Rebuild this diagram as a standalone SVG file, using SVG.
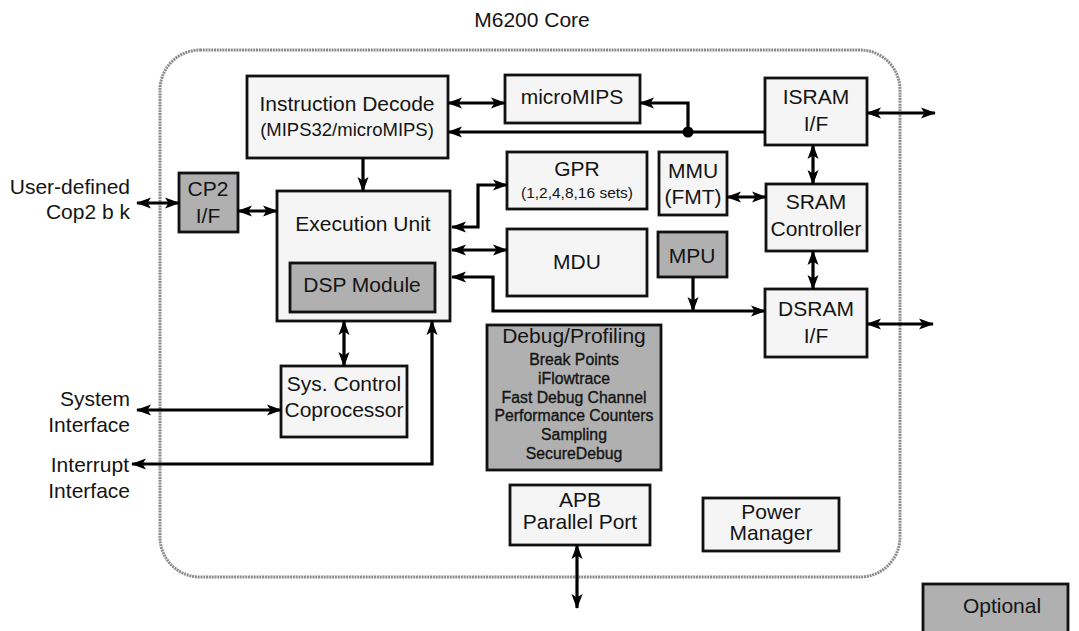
<svg xmlns="http://www.w3.org/2000/svg" width="1079" height="631" viewBox="0 0 1079 631">
<style>
  text { font-family: "Liberation Sans", Arial, sans-serif; fill: #141414; font-size: 21px; }
  .c { text-anchor: middle; }
  .r { text-anchor: end; }
  .s { font-size: 15.5px; }
  .d { font-size: 15.8px; stroke: #141414; stroke-width: 0.35; }
  .box { fill: #f5f5f5; stroke: #111; stroke-width: 2.8; }
  .opt { fill: #b0b0b0; stroke: #111; stroke-width: 2.8; }
  .ln { fill: none; stroke: #000; stroke-width: 3.2; }
</style>
<defs>
  <marker id="ah" viewBox="0 -6 15 12" refX="14" refY="0" markerWidth="15" markerHeight="12" markerUnits="userSpaceOnUse" orient="auto-start-reverse">
    <path d="M0,-5.5 L15,0 L0,5.5 L3.5,0 z" fill="#000"/>
  </marker>
</defs>
<rect width="1079" height="631" fill="#fff"/>
<text class="c" x="532" y="27">M6200 Core</text>
<rect x="160" y="50" width="740" height="527" rx="40" ry="40" fill="none" stroke="#8c8c8c" stroke-width="3" stroke-dasharray="2 0.8"/>

<g id="instruction-decode">
  <rect class="box" x="247" y="76" width="201" height="82"/>
  <text class="c" x="347" y="111">Instruction Decode</text>
  <text class="c" x="347" y="136" style="font-size:18.5px">(MIPS32/microMIPS)</text>
</g>
<g id="micromips">
  <rect class="box" x="505" y="75" width="135" height="48"/>
  <text class="c" x="572" y="104">microMIPS</text>
</g>
<g id="isram">
  <rect class="box" x="765" y="78" width="102" height="67"/>
  <text class="c" x="816" y="104">ISRAM</text>
  <text class="c" x="816" y="131">I/F</text>
</g>
<g id="gpr">
  <rect class="box" x="507" y="152" width="140" height="57"/>
  <text class="c" x="577" y="176">GPR</text>
  <text class="c s" x="577" y="198">(1,2,4,8,16 sets)</text>
</g>
<g id="mmu">
  <rect class="box" x="659" y="152" width="68" height="63"/>
  <text class="c" x="693" y="178">MMU</text>
  <text class="c" x="693" y="204">(FMT)</text>
</g>
<g id="sram-controller">
  <rect class="box" x="766" y="184" width="101" height="67"/>
  <text class="c" x="816" y="209">SRAM</text>
  <text class="c" x="816" y="236">Controller</text>
</g>
<g id="mpu">
  <rect class="opt" x="658" y="232" width="69" height="45"/>
  <text class="c" x="692" y="263">MPU</text>
</g>
<g id="mdu">
  <rect class="box" x="507" y="229" width="140" height="67"/>
  <text class="c" x="577" y="269">MDU</text>
</g>
<g id="dsram">
  <rect class="box" x="765" y="289" width="102" height="68"/>
  <text class="c" x="816" y="316">DSRAM</text>
  <text class="c" x="816" y="343">I/F</text>
</g>
<g id="execution-unit">
  <rect class="box" x="277" y="191" width="173" height="130"/>
  <text class="c" x="363" y="231">Execution Unit</text>
</g>
<g id="dsp-module">
  <rect class="opt" x="290" y="263" width="145" height="49"/>
  <text class="c" x="362" y="292">DSP Module</text>
</g>
<g id="cp2">
  <rect class="opt" x="179" y="173" width="59" height="59"/>
  <text class="c" x="208" y="196">CP2</text>
  <text class="c" x="208" y="223">I/F</text>
</g>
<g id="sys-control">
  <rect class="box" x="281" y="366" width="126" height="71"/>
  <text class="c" x="344" y="391">Sys. Control</text>
  <text class="c" x="344" y="417">Coprocessor</text>
</g>
<g id="debug">
  <rect class="opt" x="487" y="325" width="174" height="145"/>
  <text class="c" x="574" y="343">Debug/Profiling</text>
  <text class="c d" x="574" y="365">Break Points</text>
  <text class="c d" x="574" y="384">iFlowtrace</text>
  <text class="c d" x="574" y="403">Fast Debug Channel</text>
  <text class="c d" x="574" y="421">Performance Counters</text>
  <text class="c d" x="574" y="440">Sampling</text>
  <text class="c d" x="574" y="459">SecureDebug</text>
</g>
<g id="apb">
  <rect class="box" x="510" y="485" width="140" height="60"/>
  <text class="c" x="580" y="507">APB</text>
  <text class="c" x="580" y="529">Parallel Port</text>
</g>
<g id="power-manager">
  <rect class="box" x="703" y="498" width="136" height="53"/>
  <text class="c" x="771" y="519">Power</text>
  <text class="c" x="771" y="540">Manager</text>
</g>
<g id="labels">
  <text class="r" x="130" y="194">User-defined</text>
  <text class="r" x="130" y="219">Cop2 b k</text>
  <text class="r" x="130" y="406">System</text>
  <text class="r" x="130" y="432">Interface</text>
  <text class="r" x="129" y="472">Interrupt</text>
  <text class="r" x="130" y="498">Interface</text>
</g>
<g id="optional-legend">
  <rect class="opt" x="923" y="584" width="145" height="50"/>
  <text class="c" x="1002" y="613">Optional</text>
</g>

<g id="connectors">
  <path class="ln" d="M448,103 H505" marker-start="url(#ah)" marker-end="url(#ah)"/>
  <path class="ln" d="M765,132 H448" marker-end="url(#ah)"/>
  <path class="ln" d="M688,132 V103 H640" marker-end="url(#ah)"/>
  <circle cx="688" cy="132" r="5.5" fill="#000"/>
  <path class="ln" d="M867,113 H935" marker-start="url(#ah)" marker-end="url(#ah)"/>
  <path class="ln" d="M727,197 H766" marker-start="url(#ah)" marker-end="url(#ah)"/>
  <path class="ln" d="M813,145 V184" marker-start="url(#ah)" marker-end="url(#ah)"/>
  <path class="ln" d="M813,251 V289" marker-start="url(#ah)" marker-end="url(#ah)"/>
  <path class="ln" d="M867,324 H933" marker-start="url(#ah)" marker-end="url(#ah)"/>
  <path class="ln" d="M693,277 V311" marker-end="url(#ah)"/>
  <path class="ln" d="M765,311 H493 V277 H452" marker-start="url(#ah)" marker-end="url(#ah)"/>
  <path class="ln" d="M452,227 H478 V185 H507" marker-start="url(#ah)" marker-end="url(#ah)"/>
  <path class="ln" d="M452,250 H507" marker-start="url(#ah)" marker-end="url(#ah)"/>
  <path class="ln" d="M363,158 V191" marker-end="url(#ah)"/>
  <path class="ln" d="M238,211 H277" marker-start="url(#ah)" marker-end="url(#ah)"/>
  <path class="ln" d="M137,203 H179" marker-start="url(#ah)" marker-end="url(#ah)"/>
  <path class="ln" d="M344,321 V366" marker-start="url(#ah)" marker-end="url(#ah)"/>
  <path class="ln" d="M137,410 H281" marker-start="url(#ah)" marker-end="url(#ah)"/>
  <path class="ln" d="M432,321 V464 H132" marker-start="url(#ah)" marker-end="url(#ah)"/>
  <path class="ln" d="M577,545 V608" marker-start="url(#ah)" marker-end="url(#ah)"/>
</g>
</svg>
